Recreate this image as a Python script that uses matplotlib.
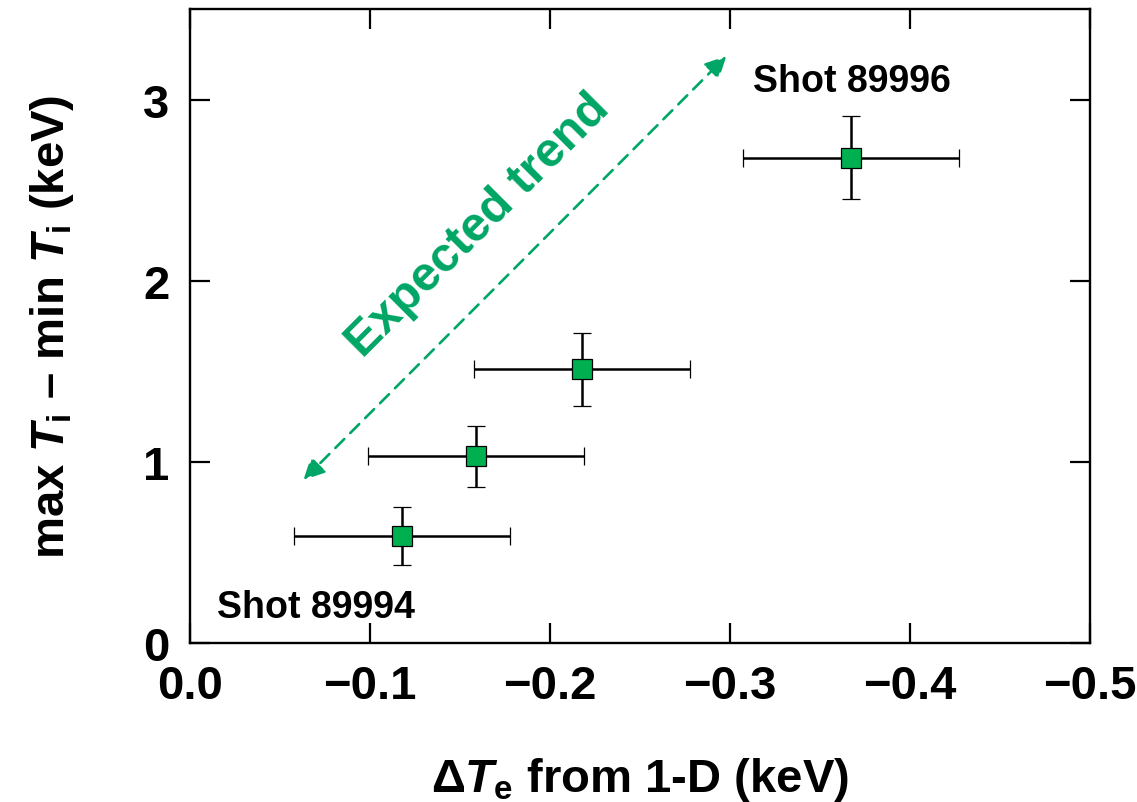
import matplotlib
matplotlib.use("Agg")
import matplotlib.pyplot as plt
from matplotlib.patches import FancyArrowPatch

# ---- data ----
delta_te = [-0.118, -0.159, -0.218, -0.367]
delta_te_err = [0.06, 0.06, 0.06, 0.06]
delta_ti = [0.59, 1.03, 1.51, 2.68]
delta_ti_err_low = [0.16, 0.17, 0.20, 0.23]
delta_ti_err_high = [0.16, 0.17, 0.20, 0.23]
x_ticks = [0.0, -0.1, -0.2, -0.3, -0.4, -0.5]
y_ticks = [0, 1, 2, 3]
trend_start = (-0.063, 0.90)
trend_end = (-0.298, 3.24)

plt.rcParams['font.family'] = ['Liberation Sans', 'DejaVu Sans']
plt.rcParams['font.weight'] = 'bold'
plt.rcParams['mathtext.fontset'] = 'custom'
plt.rcParams['mathtext.rm'] = 'Liberation Sans:bold'
plt.rcParams['mathtext.it'] = 'Liberation Sans:italic:bold'
plt.rcParams['mathtext.bf'] = 'Liberation Sans:bold'
plt.rcParams['mathtext.sf'] = 'Liberation Sans'

GREEN_MARK = '#00b050'
GREEN_TXT = '#00a665'

fig = plt.figure(figsize=(11.37, 8.03), dpi=100)
ax = fig.add_axes([190/1137, 1 - 644/803, 900/1137, 634/803])

ax.errorbar(delta_te, delta_ti, xerr=delta_te_err,
            yerr=[delta_ti_err_low, delta_ti_err_high],
            fmt='s', color='black', ecolor='black', elinewidth=1.8,
            capsize=6.8, capthick=1.8, markersize=15,
            markerfacecolor=GREEN_MARK, markeredgecolor='black',
            markeredgewidth=0.9, zorder=3)

ax.set_xlim(0.0, -0.5)
ax.set_ylim(0, 3.5)
ax.set_xticks(x_ticks)
ax.set_yticks(y_ticks)

ax.tick_params(axis='both', which='major', direction='in', length=14.5,
               width=1.6, labelsize=34, pad=15, top=True, right=True)
for lab in ax.get_xticklabels() + ax.get_yticklabels():
    lab.set_fontweight('bold')
for sp in ax.spines.values():
    sp.set_linewidth(1.7)

ax.set_xlabel(r'$\mathsf{\Delta}\mathit{T}_\mathrm{e}$ from 1-D (keV)',
              fontsize=34, fontweight='bold', labelpad=34)
ax.set_ylabel(r'max $\mathit{T}_\mathrm{i}$ – min $\mathit{T}_\mathrm{i}$ (keV)',
              fontsize=34, fontweight='bold', labelpad=48)

# expected trend arrow
arrow = FancyArrowPatch(trend_start, trend_end, arrowstyle='<|-|>',
                        mutation_scale=32, color=GREEN_TXT, lw=1.9,
                        linestyle=(0, (4.8, 3.2)), shrinkA=0, shrinkB=0,
                        zorder=2)
ax.add_patch(arrow)

ax.text(-0.160, 2.31, 'Expected trend', color=GREEN_TXT, fontsize=35,
        fontweight='bold', rotation=45, rotation_mode='anchor',
        ha='center', va='center')

ax.text(-0.313, 3.10, 'Shot 89996', fontsize=27, fontweight='bold',
        ha='left', va='center')
ax.text(-0.015, 0.2, 'Shot 89994', fontsize=27, fontweight='bold',
        ha='left', va='center')

fig.savefig('out.png', dpi=100)
